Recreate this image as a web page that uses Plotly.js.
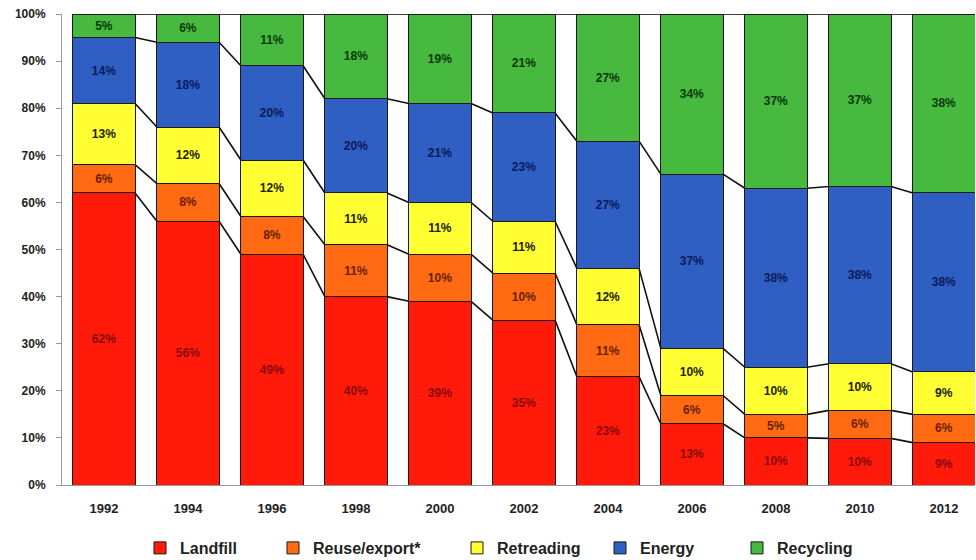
<!DOCTYPE html>
<html>
<head>
<meta charset="utf-8">
<script src="https://cdn.plot.ly/plotly-3.0.1.min.js"></script>
<style>html,body{margin:0;padding:0;background:#fff;}#chart{width:976px;height:560px;}</style>
</head>
<body>
<div id="chart"></div>
<script>
const years = ['1992','1994','1996','1998','2000','2002','2004','2006','2008','2010','2012'];
const landfill   = [62, 56, 49, 40, 39, 35, 23, 13, 10, 10, 9];
const reuse      = [6, 8, 8, 11, 10, 10, 11, 6, 5, 6, 6];
const retreading = [13, 12, 12, 11, 11, 11, 12, 10, 10, 10, 9];
const energy     = [14, 18, 20, 20, 21, 23, 27, 37, 38, 38, 38];
const recycling  = [5, 6, 11, 18, 19, 21, 27, 34, 37, 37, 38];
const yTicks     = [0, 10, 20, 30, 40, 50, 60, 70, 80, 90, 100];
const yTickText  = ['0%', '10%', '20%', '30%', '40%', '50%', '60%', '70%', '80%', '90%', '100%'];

const seriesNames = ['Landfill', 'Reuse/export*', 'Retreading', 'Energy', 'Recycling'];
const seriesData = [landfill, reuse, retreading, energy, recycling];
const barColors = ['#ff1a0a', '#ff6a12', '#ffff33', '#2f5fc2', '#46b93e'];
const textColors = ['#8a0a0a', '#6a1f00', '#222200', '#0a1a5a', '#0a3a0a'];
const legendWidths = [88, 139, 98, 92, 100];

const BARW = 0.74;
const idx = years.map((_, i) => i);
const FONT = 'Liberation Sans, Arial, sans-serif';

const traces = seriesData.map((vals, s) => ({
  type: 'bar',
  name: seriesNames[s],
  x: idx,
  y: vals,
  text: vals.map(String),
  texttemplate: '%{text}%',
  textposition: 'inside',
  insidetextanchor: 'middle',
  textangle: 0,
  constraintext: 'none',
  textfont: {family: FONT, size: 12, color: textColors[s], weight: 'bold'},
  width: BARW,
  marker: {color: barColors[s], line: {color: '#1a1a1a', width: 1}},
  legendwidth: legendWidths[s],
  hoverinfo: 'skip'
}));

// connector lines between segment boundaries (computed from normalized data)
const totals = idx.map(i => seriesData.reduce((a, arr) => a + arr[i], 0));
const shapes = [];
for (let s = 0; s < seriesData.length; s++) {
  const cum = idx.map(i => {
    let c = 0;
    for (let k = 0; k <= s; k++) c += seriesData[k][i];
    return c / totals[i] * 100;
  });
  for (let i = 0; i < idx.length - 1; i++) {
    shapes.push({
      type: 'line', xref: 'x', yref: 'y',
      x0: i + BARW / 2, x1: i + 1 - BARW / 2,
      y0: cum[i], y1: cum[i + 1],
      line: {color: '#111', width: 1.6},
      layer: 'above'
    });
  }
}

const layout = {
  width: 976, height: 560,
  margin: {l: 62, r: 1, t: 14, b: 75},
  paper_bgcolor: '#fff', plot_bgcolor: '#fff',
  barmode: 'stack',
  barnorm: 'percent',
  showlegend: true,
  hovermode: false,
  font: {family: FONT, color: '#222'},
  xaxis: {
    type: 'linear',
    range: [-0.5, 10.37],
    tickvals: idx, ticktext: years,
    showgrid: false, zeroline: false,
    showline: true, linecolor: '#999', linewidth: 1,
    ticks: '', ticklabelstandoff: 11,
    tickfont: {family: FONT, size: 13, color: '#222', weight: 'bold'},
    fixedrange: true
  },
  yaxis: {
    range: [0, 100],
    tickvals: yTicks,
    ticktext: yTickText,
    showgrid: false, zeroline: false,
    showline: true, linecolor: '#999', linewidth: 1,
    ticks: 'outside', ticklen: 5, tickcolor: '#999',
    ticklabelstandoff: 8,
    tickfont: {family: FONT, size: 12, color: '#222', weight: 'bold'},
    fixedrange: true
  },
  legend: {
    orientation: 'h',
    x: (140 - 62) / 913, xanchor: 'left',
    yref: 'container',
    y: (560 - 548) / 560, yanchor: 'middle',
    font: {family: FONT, size: 16, color: '#222', weight: 'bold'},
    itemwidth: 30,
    traceorder: 'normal'
  },
  shapes: shapes
};

Plotly.newPlot('chart', traces, layout, {displayModeBar: false, staticPlot: true});
</script>
</body>
</html>
